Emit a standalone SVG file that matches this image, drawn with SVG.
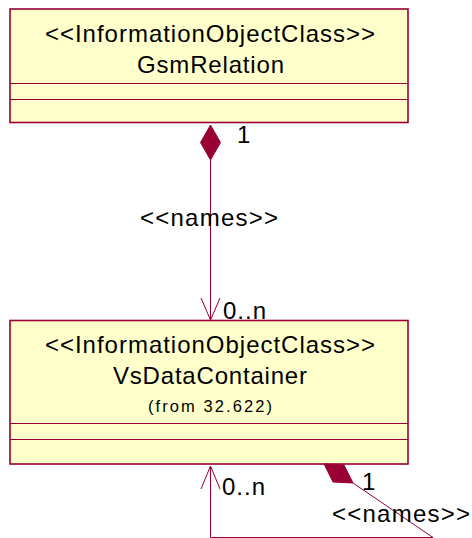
<svg xmlns="http://www.w3.org/2000/svg" width="472" height="538" viewBox="0 0 472 538">
<style>
.box{fill:#FFFFCC;stroke:#990033;stroke-width:1.6}
.div{stroke:#990033;stroke-width:1;fill:none}
.t{font-family:"Liberation Sans",Arial,sans-serif;font-size:24px;fill:#000;text-anchor:middle}
.s{font-family:"Liberation Sans",Arial,sans-serif;font-size:16.5px;fill:#000;text-anchor:middle}
.l{font-family:"Liberation Sans",Arial,sans-serif;font-size:24px;fill:#000}
.c{stroke:#990033;stroke-width:1;fill:none}
.d{fill:#990033;stroke:#990033;stroke-width:1}
</style>
<rect width="472" height="538" fill="#fff"/>
<g id="GsmRelation">
<rect class="box" x="10" y="9" width="398" height="113.5"/>
<line class="div" x1="10" y1="83.5" x2="408" y2="83.5"/>
<line class="div" x1="10" y1="99.5" x2="408" y2="99.5"/>
<text class="t" x="210" y="42" textLength="330" lengthAdjust="spacing">&lt;&lt;InformationObjectClass&gt;&gt;</text>
<text class="t" x="210.5" y="73" textLength="147" lengthAdjust="spacing">GsmRelation</text>
</g>
<g id="VsDataContainer">
<rect class="box" x="10" y="320.5" width="398" height="143.5"/>
<line class="div" x1="10" y1="423.5" x2="408" y2="423.5"/>
<line class="div" x1="10" y1="439.5" x2="408" y2="439.5"/>
<text class="t" x="210" y="353" textLength="330" lengthAdjust="spacing">&lt;&lt;InformationObjectClass&gt;&gt;</text>
<text class="t" x="210" y="384" textLength="194" lengthAdjust="spacing">VsDataContainer</text>
<text class="s" x="210" y="412" textLength="124" lengthAdjust="spacing">(from 32.622)</text>
</g>
<g id="connectors">
<polygon class="d" points="210.5,125 220.5,142.5 210.5,160 200.5,142.5"/>
<line class="c" x1="210.5" y1="160" x2="210.5" y2="320"/>
<polyline class="c" points="201,298 210.5,320 220,298"/>
<text class="l" x="237" y="143">1</text>
<text class="l" x="140" y="226" textLength="138" lengthAdjust="spacing">&lt;&lt;names&gt;&gt;</text>
<text class="l" x="223" y="319" textLength="43" lengthAdjust="spacing">0..n</text>

<polyline class="c" points="210.5,466 210.5,537.5 433,537.5 353,483"/>
<polyline class="c" points="201,489 210.5,466 220,489"/>
<polygon class="d" points="324,464 344,465 353,483 333,482"/>
<text class="l" x="222" y="495" textLength="43" lengthAdjust="spacing">0..n</text>
<text class="l" x="362" y="490">1</text>
<text class="l" x="332" y="522" textLength="138" lengthAdjust="spacing">&lt;&lt;names&gt;&gt;</text>
</g>
</svg>
